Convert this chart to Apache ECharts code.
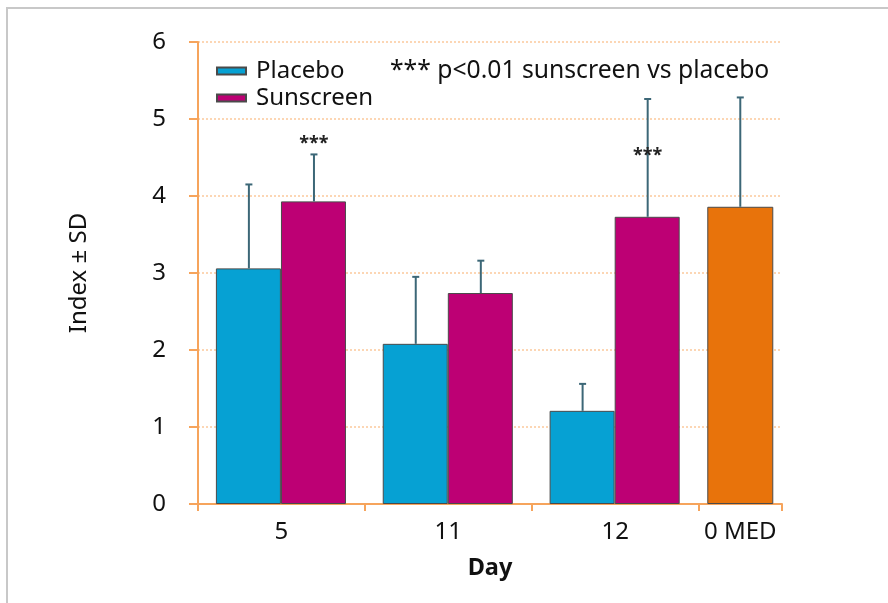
<!DOCTYPE html>
<html>
<head>
<meta charset="utf-8">
<script src="https://cdn.jsdelivr.net/npm/echarts@6/dist/echarts.min.js"></script>
<style>
  html, body { margin: 0; padding: 0; background: #ffffff; }
  #chart { width: 888px; height: 603px; }
</style>
</head>
<body>
<div id="chart"></div>
<script>
// ---- data ----
const categories = ['5', '11', '12', '0 MED'];
const placebo = [3.06, 2.08, 1.21];
const placeboSD = [1.09, 0.87, 0.35];
const sunscreen = [3.93, 2.74, 3.73];
const sunscreenSD = [0.61, 0.42, 1.53];
const medValue = [3.86];
const medSD = [1.42];
const significance = ['***', '', '***'];
const starLevel = [4.68, null, 4.52];
const yTicks = [0, 1, 2, 3, 4, 5, 6];

// ---- layout on a slot axis: each day group = 2 slots, 0 MED = 1 slot ----
const barOffset = 0.39;
const groupCenter = i => 2 * i + 1;
const labelPos = [1, 3, 5, 6.5];
const tickPos = [0, 2, 4, 6, 7];

const placeboData = placebo.map((v, i) => [groupCenter(i) - barOffset, v]);
const sunscreenData = sunscreen.map((v, i) => [groupCenter(i) + barOffset, v]);
const medData = medValue.map(v => [6.5, v]);

const errData = [];
placebo.forEach((v, i) => errData.push([groupCenter(i) - barOffset, v, placeboSD[i]]));
sunscreen.forEach((v, i) => errData.push([groupCenter(i) + barOffset, v, sunscreenSD[i]]));
medValue.forEach((v, i) => errData.push([6.5, v, medSD[i]]));

const starData = [];
significance.forEach((s, i) => { if (s) starData.push([groupCenter(i) + barOffset, starLevel[i], s]); });

const FONT = 'Noto Sans';
const chart = echarts.init(document.getElementById('chart'));
const barBorder = { borderColor: '#4a4a4a', borderWidth: 1 };

chart.setOption({
  animation: false,
  backgroundColor: '#ffffff',
  textStyle: { fontFamily: FONT },
  grid: { left: 198, right: 106, top: 42, bottom: 99 },
  legend: {
    data: ['Placebo', 'Sunscreen'],
    orient: 'vertical',
    left: 211,
    top: 54,
    itemWidth: 29,
    itemHeight: 7,
    itemGap: 3,
    icon: 'rect',
    selectedMode: false,
    textStyle: { fontFamily: FONT, fontSize: 24, color: '#111', padding: [0, 0, 0, 5] }
  },
  graphic: [
    { type: 'text', left: 390, top: 58,
      style: { text: '*** p<0.01 sunscreen vs placebo', font: '24.7px "Noto Sans"', fill: '#111' } },
    { type: 'polyline', silent: true,
      shape: { points: [[7, 603], [7, 8], [888, 8]] },
      style: { stroke: '#c8c8c8', lineWidth: 2, fill: null } }
  ],
  xAxis: {
    type: 'value',
    min: 0, max: 7,
    name: 'Day',
    nameLocation: 'middle',
    nameGap: 52,
    nameTextStyle: { fontFamily: FONT, fontSize: 23.5, fontWeight: 'bold', color: '#111' },
    axisLine: { show: true, lineStyle: { color: '#f6a45c', width: 2 } },
    axisTick: { show: true, customValues: tickPos, length: 7, lineStyle: { color: '#f6a45c', width: 2 } },
    axisLabel: {
      customValues: labelPos,
      margin: 16,
      fontFamily: FONT, fontSize: 24, color: '#111',
      formatter: v => { const k = labelPos.indexOf(v); return k >= 0 ? categories[k] : ''; }
    },
    splitLine: { show: false }
  },
  yAxis: {
    type: 'value',
    min: yTicks[0], max: yTicks[yTicks.length - 1], interval: 1,
    name: 'Index \u00b1 SD',
    nameLocation: 'middle',
    nameGap: 107,
    nameTextStyle: { fontFamily: FONT, fontSize: 24, color: '#111' },
    axisLine: { show: true, lineStyle: { color: '#f6a45c', width: 2 } },
    axisTick: { show: true, length: 9, lineStyle: { color: '#f6a45c', width: 2 } },
    axisLabel: { margin: 32, fontFamily: FONT, fontSize: 24, color: '#111' },
    splitLine: { show: true, lineStyle: { color: '#fcd6b4', width: 2, type: 'dotted' } }
  },
  series: [
    { name: 'Placebo', type: 'bar', data: placeboData, barWidth: 65, barGap: '-100%',
      itemStyle: Object.assign({ color: '#06a1d3' }, barBorder) },
    { name: 'Sunscreen', type: 'bar', data: sunscreenData, barWidth: 65, barGap: '-100%',
      itemStyle: Object.assign({ color: '#bd0074' }, barBorder) },
    { name: '0 MED', type: 'bar', data: medData, barWidth: 66, barGap: '-100%',
      itemStyle: Object.assign({ color: '#e8730b' }, barBorder) },
    { name: 'err', type: 'custom', z: 5, data: errData,
      encode: { x: 0, y: [1, 2] },
      renderItem: (params, api) => {
        const x = api.value(0), y = api.value(1), sd = api.value(2);
        const b = api.coord([x, y]);
        const t = api.coord([x, y + sd]);
        const st = { stroke: '#3c6777', lineWidth: 2 };
        return { type: 'group', children: [
          { type: 'line', shape: { x1: b[0], y1: b[1], x2: t[0], y2: t[1] }, style: st },
          { type: 'line', shape: { x1: t[0] - 3.5, y1: t[1], x2: t[0] + 3.5, y2: t[1] }, style: st }
        ] };
      }
    },
    { name: 'stars', type: 'custom', z: 6, data: starData,
      encode: { x: 0, y: 1 },
      renderItem: (params, api) => {
        const p = api.coord([api.value(0), api.value(1)]);
        return { type: 'text', x: p[0], y: p[1],
          style: { text: starData[params.dataIndex][2], font: 'bold 18px "Noto Sans"',
                   fill: '#222', align: 'center', verticalAlign: 'middle' } };
      }
    }
  ]
});
</script>
</body>
</html>
